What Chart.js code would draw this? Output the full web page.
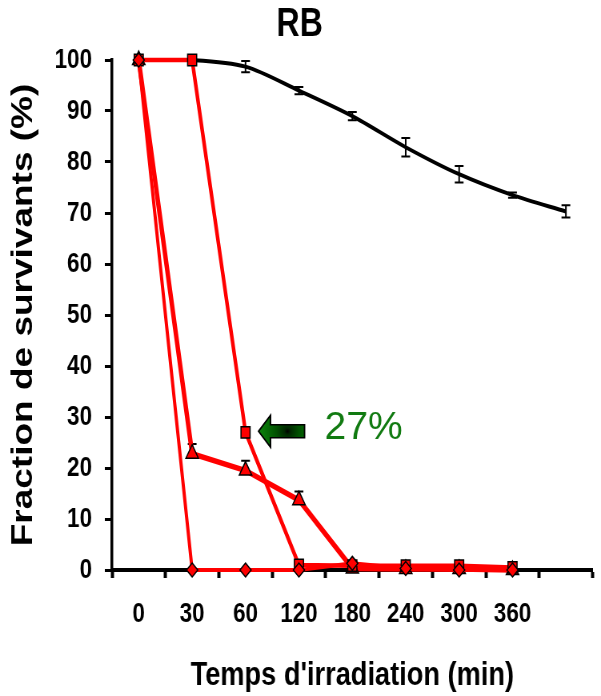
<!DOCTYPE html>
<html>
<head>
<meta charset="utf-8">
<title>RB</title>
<script src="https://cdn.jsdelivr.net/npm/chart.js@4/dist/chart.umd.min.js"></script>
<style>
  html, body { margin: 0; padding: 0; background: #fff; overflow: hidden; }
  canvas { display: block; }
</style>
</head>
<body>
<!-- drawn on a wider bitmap and shown narrower: the figure is horizontally condensed -->
<canvas id="chart" width="751" height="696" style="width:601px;height:696px"></canvas>
<script>
'use strict';

const LABELS = ['0', '30', '60', '120', '180', '240', '300', '360', ''];

const CONTROL = [100, 100, 98.7, 94.0, 89.0, 82.9, 77.6, 73.5, 70.3];
const CONTROL_ERR = [0, 0, 1.1, 0.7, 0.8, 1.8, 1.6, 0.5, 1.2];

const SQUARES = [100, 100, 27, 1.0, 0.85, 0.85, 0.85, 0.5];
const TRIANGLES = [100, 22.8, 19.5, 13.7, 0.3, 0.2, 0.2, 0];
const TRIANGLES_ERR = [0, 1.9, 1.9, 1.7, 0, 0, 0, 0];
const DIAMONDS = [100, 0, 0, 0, 1.3, 0.3, 0, 0];

const Y_TICKS = { min: 0, max: 100, step: 10 };

const SQUEEZE = 601 / 751;
const FONT = '"Liberation Sans", Arial, sans-serif';
const RED = '#ff0000';
const CAP = 5.5;

const el = id => document.getElementById(id);

// vertical error bars, drawn under the lines and markers
const errorBars = {
  id: 'errorBars',
  beforeDatasetsDraw(chart) {
    const { ctx } = chart;
    const y = chart.scales.y;
    ctx.save();
    ctx.strokeStyle = '#000';
    ctx.lineWidth = 2;
    chart.data.datasets.forEach((ds, i) => {
      if (!ds.errors) return;
      chart.getDatasetMeta(i).data.forEach((pt, j) => {
        const e = ds.errors[j];
        if (!e) return;
        const top = y.getPixelForValue(ds.data[j] + e);
        const bot = ds.plusOnly ? pt.y : y.getPixelForValue(ds.data[j] - e);
        ctx.beginPath();
        ctx.moveTo(pt.x, top); ctx.lineTo(pt.x, bot);
        ctx.moveTo(pt.x - CAP, top); ctx.lineTo(pt.x + CAP, top);
        if (!ds.plusOnly) {
          ctx.moveTo(pt.x - CAP, bot); ctx.lineTo(pt.x + CAP, bot);
        }
        ctx.stroke();
      });
    });
    ctx.restore();
  }
};

// green arrow + value label next to the 60 min square
const callout = {
  id: 'callout',
  afterDraw(chart) {
    const { ctx } = chart;
    const pt = chart.getDatasetMeta(1).data[2];
    ctx.save();
    ctx.translate(pt.x, pt.y);
    ctx.scale(1 / SQUEEZE, 1);

    ctx.beginPath();
    ctx.moveTo(13, -1);
    ctx.lineTo(25, -17);
    ctx.lineTo(25, -7.5);
    ctx.lineTo(59, -7.5);
    ctx.lineTo(59, 5.5);
    ctx.lineTo(25, 5.5);
    ctx.lineTo(25, 15);
    ctx.closePath();
    const g = ctx.createRadialGradient(42, -1, 0, 42, -1, 26);
    g.addColorStop(0, '#000000');
    g.addColorStop(0.12, '#002800');
    g.addColorStop(0.45, '#005200');
    g.addColorStop(1, '#0a7d0a');
    ctx.fillStyle = g;
    ctx.fill();
    ctx.strokeStyle = '#000';
    ctx.lineWidth = 1.5;
    ctx.stroke();

    ctx.fillStyle = '#117a11';
    ctx.font = `39px ${FONT}`;
    ctx.textBaseline = 'middle';
    ctx.textAlign = 'left';
    ctx.fillText(`${SQUARES[2]}%`, 79, -4.5);
    ctx.restore();
  }
};

function redSeries(data, style, radius, width, errors) {
  return {
    data,
    errors,
    plusOnly: true,
    borderColor: RED,
    borderWidth: width,
    tension: 0,
    pointStyle: style,
    pointRadius: radius,
    pointBackgroundColor: RED,
    pointBorderColor: '#000',
    pointBorderWidth: 1.5,
    clip: false
  };
}

function initChart() {
  return new Chart(el('chart'), {
    type: 'line',
    data: {
      labels: LABELS,
      datasets: [
        redSeries(DIAMONDS, 'rectRot', 7, 4),
        redSeries(SQUARES, 'rect', 8, 4.5),
        redSeries(TRIANGLES, 'triangle', 9, 5.5, TRIANGLES_ERR),
        {
          data: CONTROL,
          errors: CONTROL_ERR,
          borderColor: '#000',
          borderWidth: 4,
          tension: 0.3,
          pointRadius: 0,
          clip: false
        }
      ]
    },
    options: {
      responsive: false,
      animation: false,
      layout: { padding: { left: 0, right: 2, top: 0, bottom: 0 } },
      plugins: {
        legend: { display: false },
        tooltip: { enabled: false },
        title: {
          display: true,
          text: 'RB',
          color: '#000',
          font: { family: FONT, size: 40, weight: 'bold' },
          padding: { top: 1, bottom: 11 }
        }
      },
      scales: {
        x: {
          type: 'category',
          offset: true,
          grid: {
            display: true,
            offset: true,
            drawOnChartArea: false,
            drawTicks: true,
            tickLength: 8,
            tickWidth: 4,
            tickColor: '#000'
          },
          border: { display: true, color: '#000', width: 4 },
          ticks: {
            color: '#000',
            font: { family: FONT, size: 28, weight: 'bold' },
            padding: 19,
            autoSkip: false,
            maxRotation: 0
          },
          title: {
            display: true,
            text: "Temps d'irradiation (min)",
            color: '#000',
            font: { family: FONT, size: 34, weight: 'bold' },
            padding: { top: 0, bottom: 0 }
          },
          afterFit(s) { s.height = 126; }
        },
        y: {
          min: Y_TICKS.min,
          max: Y_TICKS.max,
          grid: {
            display: true,
            drawOnChartArea: false,
            drawTicks: true,
            tickLength: 9,
            tickWidth: 3,
            tickColor: '#000'
          },
          border: { display: true, color: '#000', width: 3.5 },
          ticks: {
            stepSize: Y_TICKS.step,
            color: '#000',
            font: { family: FONT, size: 28, weight: 'bold' },
            padding: 16
          },
          title: {
            display: true,
            text: 'Fraction de survivants (%)',
            color: '#000',
            font: { family: FONT, size: 37, weight: 'bold' },
            padding: { top: 8, bottom: 0 }
          },
          afterFit(s) { s.width = 140; }
        }
      }
    },
    plugins: [errorBars, callout]
  });
}

initChart();
</script>
</body>
</html>
